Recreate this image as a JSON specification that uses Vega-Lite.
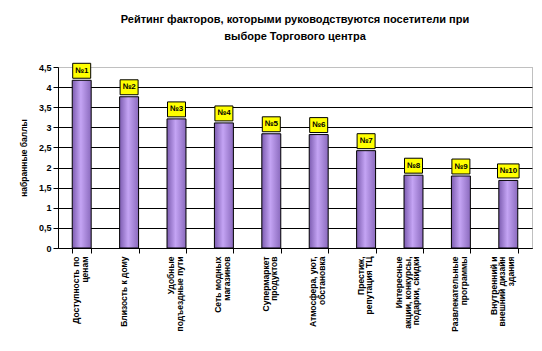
{
  "$schema": "https://vega.github.io/schema/vega-lite/v6.json",
  "width": 474,
  "height": 181,
  "autosize": {"type": "none"},
  "padding": {"left": 58, "top": 67, "right": 10, "bottom": 103},
  "background": "white",
  "config": {"view": {"stroke": "#808080", "strokeDash": [1, 1]}, "font": "Liberation Sans"},
  "title": {
    "text": ["Рейтинг факторов, которыми руководствуются посетители при", "выборе Торгового центра"],
    "fontSize": 11, "fontWeight": "bold", "font": "Liberation Sans", "color": "black",
    "anchor": "middle", "offset": 19, "lineHeight": 17
  },
  "data": {"values": [
    {"factor": "Доступность по|ценам", "score": 4.17, "rank": "№1"},
    {"factor": "Близость к дому", "score": 3.76, "rank": "№2"},
    {"factor": "Удобные|подъездные пути", "score": 3.21, "rank": "№3"},
    {"factor": "Сеть модных|магазинов", "score": 3.11, "rank": "№4"},
    {"factor": "Супермаркет|продуктов", "score": 2.84, "rank": "№5"},
    {"factor": "Атмосфера, уют,|обстановка", "score": 2.82, "rank": "№6"},
    {"factor": "Престиж,|репутация ТЦ", "score": 2.42, "rank": "№7"},
    {"factor": "Интересные|акции, конкурсы,|подарки, скидки", "score": 1.81, "rank": "№8"},
    {"factor": "Развлекательные|программы", "score": 1.79, "rank": "№9"},
    {"factor": "Внутренний и|внешний дизайн|здания", "score": 1.68, "rank": "№10"}
  ]},
  "encoding": {
    "x": {
      "field": "factor", "type": "nominal", "sort": null,
      "scale": {"paddingInner": 0.6, "paddingOuter": 0.3},
      "axis": {
        "title": null, "labelAngle": -90, "labelExpr": "split(datum.label, '|')",
        "labelFontSize": 8.5, "labelFontWeight": "bold", "labelColor": "black",
        "labelLineHeight": 8.5, "tickBand": "extent", "tickSize": 5, "tickColor": "black",
        "domainColor": "black", "labelPadding": 3, "labelLimit": 200,
        "labelOffset": {"condition": {"test": "length(split(datum.value, '|')) == 3", "value": -15}, "value": -6}
      }
    },
    "y": {
      "field": "score", "type": "quantitative",
      "scale": {"domain": [0, 4.5]},
      "axis": {
        "values": [0, 0.5, 1, 1.5, 2, 2.5, 3, 3.5, 4, 4.5],
        "title": "набранные баллы", "titleFontSize": 8.5, "titleFontWeight": "bold", "titleColor": "black",
        "labelFontSize": 9, "labelFontWeight": "bold", "labelColor": "black",
        "labelExpr": "replace(toString(datum.value), '.', ',')",
        "labelOverlap": false,
        "domainColor": "black", "tickColor": "black", "tickSize": 5, "labelPadding": 2, "titlePadding": 10,
        "gridColor": {"condition": {"test": "datum.value == 4.5", "value": "transparent"}, "value": "black"},
        "gridOpacity": 1
      }
    }
  },
  "layer": [
    {
      "mark": {
        "type": "bar", "stroke": "black", "strokeWidth": 1,
        "fill": {"gradient": "linear", "x1": 0, "x2": 1, "y1": 0, "y2": 0,
          "stops": [{"offset": 0, "color": "#7c5cb0"}, {"offset": 0.45, "color": "#c4a4f4"}, {"offset": 1, "color": "#8a6abd"}]}
      }
    },
    {
      "mark": {"type": "point", "filled": true, "fill": "#ffff00", "stroke": "black", "strokeWidth": 1, "opacity": 1, "yOffset": -9.5},
      "encoding": {
        "shape": {"condition": {"test": "datum.rank === '№10'", "value": "M-1,-0.65L1,-0.65L1,0.65L-1,0.65Z"}, "value": "M-1,-0.83L1,-0.83L1,0.83L-1,0.83Z"},
        "size": {"condition": {"test": "datum.rank === '№10'", "value": 466}, "value": 324}
      }
    },
    {
      "mark": {"type": "text", "fontSize": 8, "fontWeight": "bold", "color": "black", "yOffset": -9.5, "baseline": "middle"},
      "encoding": {
        "text": {"field": "rank"}
      }
    }
  ]
}
